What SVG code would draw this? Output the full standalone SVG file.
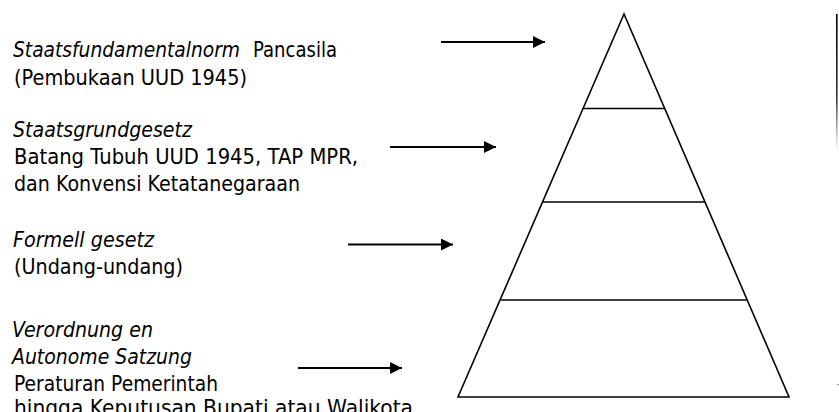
<svg xmlns="http://www.w3.org/2000/svg" width="839" height="412" viewBox="0 0 839 412">
<defs>
<style>
.t{font-family:"DejaVu Sans","Liberation Sans",sans-serif;font-size:20.5px;fill:#000}
.i{font-style:italic}
.ln{stroke:#000;stroke-width:1.6;fill:none}
.ar{stroke:#000;stroke-width:2;fill:none;marker-end:url(#ah)}
</style>
<marker id="ah" viewBox="0 0 12 12" refX="12" refY="6" markerWidth="12" markerHeight="12" markerUnits="userSpaceOnUse" orient="auto">
<path d="M0,0 L12,6 L0,12 Z" fill="#000"/>
</marker>
<linearGradient id="fade" x1="0" y1="0" x2="0" y2="1">
<stop offset="0" stop-color="#000"/>
<stop offset="0.6" stop-color="#333"/>
<stop offset="1" stop-color="#fff"/>
</linearGradient>
</defs>
<rect width="839" height="412" fill="#fff"/>
<g id="pyramid">
<polygon class="ln" points="624,14 458,397 789,397"/>
<line class="ln" x1="583" y1="108.5" x2="665" y2="108.5"/>
<line class="ln" x1="543" y1="202" x2="705" y2="202"/>
<line class="ln" x1="501" y1="300" x2="747" y2="300"/>
</g>
<g id="label1">
<text class="t i" x="13" y="57" textLength="227" lengthAdjust="spacingAndGlyphs">Staatsfundamentalnorm</text>
<text class="t" x="253" y="57" textLength="84" lengthAdjust="spacingAndGlyphs">Pancasila</text>
<text class="t" x="14" y="85" textLength="233" lengthAdjust="spacingAndGlyphs">(Pembukaan UUD 1945)</text>
</g>
<g id="label2">
<text class="t i" x="13" y="137" textLength="179" lengthAdjust="spacingAndGlyphs">Staatsgrundgesetz</text>
<text class="t" x="14" y="164" textLength="344" lengthAdjust="spacingAndGlyphs">Batang Tubuh UUD 1945, TAP MPR,</text>
<text class="t" x="14" y="191" textLength="286" lengthAdjust="spacingAndGlyphs">dan Konvensi Ketatanegaraan</text>
</g>
<g id="label3">
<text class="t i" x="13" y="247" textLength="141" lengthAdjust="spacingAndGlyphs">Formell gesetz</text>
<text class="t" x="14" y="274" textLength="169" lengthAdjust="spacingAndGlyphs">(Undang-undang)</text>
</g>
<g id="label4">
<text class="t i" x="12" y="337" textLength="141" lengthAdjust="spacingAndGlyphs">Verordnung en</text>
<text class="t i" x="12" y="364" textLength="180" lengthAdjust="spacingAndGlyphs">Autonome Satzung</text>
<text class="t" x="14" y="391" textLength="204" lengthAdjust="spacingAndGlyphs">Peraturan Pemerintah</text>
<text class="t" x="14" y="415" textLength="399" lengthAdjust="spacingAndGlyphs">hingga Keputusan Bupati atau Walikota</text>
</g>
<g id="connectors">
<line class="ar" x1="441" y1="42" x2="545" y2="42"/>
<line class="ar" x1="390" y1="147" x2="496" y2="147"/>
<line class="ar" x1="348" y1="244.5" x2="453" y2="244.5"/>
<line class="ar" x1="298" y1="368" x2="402" y2="368"/>
</g>
<g id="edge">
<rect x="836" y="14" width="1.6" height="136" fill="url(#fade)"/>
<rect x="837" y="384" width="2" height="1.2" fill="#999"/>
</g>
</svg>
